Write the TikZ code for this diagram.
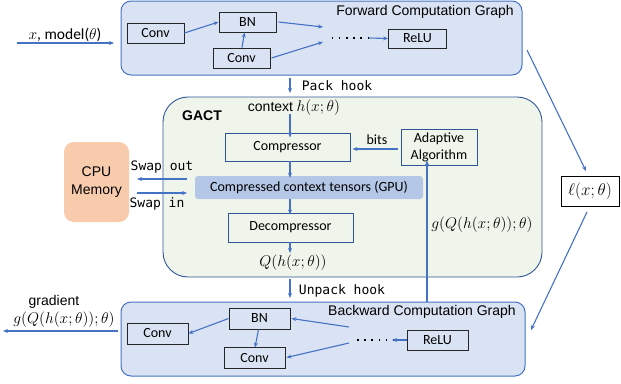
\RequirePackage{fix-cm}
\documentclass[tikz,border=0pt]{standalone}
\usepackage{fontspec}
\setmainfont{Carlito}
\newfontfamily\arial{Liberation Sans}
\setmonofont{DejaVu Sans Mono}
\usetikzlibrary{arrows.meta}
\definecolor{ablue}{HTML}{4472C4}
\definecolor{dblue}{HTML}{2F5597}
\definecolor{gfill}{HTML}{DAE3F3}
\definecolor{greenfill}{HTML}{F0F5EB}
\definecolor{tensfill}{HTML}{B4C7E7}
\definecolor{cpufill}{HTML}{F8CBAD}
\tikzset{
  arr/.style={draw=ablue, line width=1.1pt, -{Stealth[length=5pt,width=4pt]}},
  blk/.style={draw=black!85, line width=0.9pt, inner sep=0pt, font=\fontsize{14}{16}\selectfont},
  qbox/.style={draw=dblue, line width=0.9pt, inner sep=0pt, font=\fontsize{14}{16}\selectfont},
  graph/.style={draw=ablue, line width=1pt, fill=gfill, rounded corners=10pt},
  lab/.style={inner sep=0pt, font=\fontsize{14}{16}\selectfont},
  mathlab/.style={inner sep=0pt, font=\fontsize{15.5}{17}\selectfont},
  alab/.style={inner sep=0pt, font=\arial\fontsize{14}{16}\selectfont},
  mlab/.style={inner sep=0pt, font=\ttfamily\fontsize{13}{15}\selectfont},
  dotsline/.style={draw=black, line width=1.6pt, dash pattern=on 1.6pt off 5.6pt},
}
\begin{document}
\begin{tikzpicture}[x=1pt,y=-1pt]
\useasboundingbox (0,0) rectangle (621,383);
% graph boxes
\draw[graph] (121,1) rectangle (522,75);
\node[alab] (ftitle) at (425,12) {Forward Computation Graph};
\draw[graph] (121,302) rectangle (525,376);
\node[alab] (btitle) at (422,312) {Backward Computation Graph};
% GACT
\draw[draw=dblue, line width=0.9pt, fill=greenfill, rounded corners=25pt] (163,97) rectangle (542,277);
\node[alab, font=\arial\bfseries\fontsize{14}{16}\selectfont] (gact) at (202,116) {GACT};

% forward nodes
\node[blk, minimum width=57pt, minimum height=20pt] (fconv1) at (155.5,33) {Conv};
\node[blk, minimum width=57pt, minimum height=20pt] (fbn) at (247.5,22) {BN};
\node[blk, minimum width=57pt, minimum height=20pt] (fconv2) at (241.5,58) {Conv};
\node[blk, minimum width=58pt, minimum height=19pt] (frelu) at (417.5,38.5) {ReLU};
\coordinate (fa1) at (323,27);
\coordinate (fa2) at (323,42);
\coordinate (fd1) at (331.5,38);
\coordinate (fd2) at (369,38);
\draw[arr] (fconv1.east) -- (fbn.west);
\draw[arr] ([xshift=0.5pt]fconv2.north) -- ([xshift=-3pt]fbn.south);
\draw[arr] ([xshift=2pt]fbn.east) -- (fa1);
\draw[arr] ([xshift=1pt]fconv2.east) -- (fa2);
\draw[dotsline] (fd1) -- (fd2);
\draw[arr] (fd2) -- (frelu.west);

% input
\coordinate (in1) at (17,43);
\coordinate (in2) at (114,43);
\draw[arr] (in1) -- (in2);
\node[mathlab] (inlab) at (65,35) {$x$, model($\theta$)};

% pack hook
\coordinate (p1) at (290,78);
\coordinate (p2) at (290,93);
\draw[arr] (p1) -- (p2);
\node[mlab] (packlab) at (337,86) {Pack hook};

% GACT internals
\node[mathlab] (ctx) at (294,108) {{\arial\fontsize{14}{16}\selectfont context} $h(x;\theta)$};
\node[qbox, minimum width=125pt, minimum height=28pt] (comp) at (287.5,147) {Compressor};
\node[inner sep=0pt, fill=tensfill, rounded corners=3pt, minimum width=228pt, minimum height=23pt, font=\fontsize{14}{16}\selectfont] (tens) at (309,187.5) {Compressed context tensors (GPU)};
\node[qbox, minimum width=125pt, minimum height=29pt] (decomp) at (290.5,227.5) {Decompressor};
\node[qbox, minimum width=76pt, minimum height=36pt, align=center, font=\fontsize{14}{17}\selectfont] (adapt) at (439,147) {Adaptive\\Algorithm};
\node[mathlab] (qlab) at (293,263) {$Q(h(x;\theta))$};
\coordinate (c1) at (290,114);
\draw[arr] (c1) -- ([yshift=-5pt]comp.north -| c1);
\draw[arr] (comp.south -| c1) -- ([yshift=-2pt]tens.north -| c1);
\draw[arr] (tens.south -| c1) -- ([yshift=-2pt]decomp.north -| c1);
\draw[arr] (decomp.south -| c1) -- (290,253);
\draw[arr] ([xshift=-3pt]adapt.west |- 0,149) -- ([xshift=2pt]comp.east |- 0,149);
\node[lab] (bitslab) at (377,140) {bits};

% CPU memory
\node[inner sep=0pt, fill=cpufill, rounded corners=10pt, minimum width=65pt, minimum height=80pt, align=center, font=\arial\fontsize{14}{18}\selectfont] (cpu) at (96.5,182) {CPU\\Memory};
\coordinate (so1) at (187,179);
\coordinate (so2) at (137,179);
\coordinate (si1) at (137,193);
\coordinate (si2) at (187,193);
\draw[arr] (so1) -- (so2);
\draw[arr] (si1) -- (si2);
\node[mlab] (swapout) at (162,167) {Swap out};
\node[mlab] (swapin) at (157,204) {Swap in};

% unpack hook
\coordinate (u1) at (290,279);
\coordinate (u2) at (290,298);
\draw[arr] (u1) -- (u2);
\node[mlab] (unpacklab) at (342,291) {Unpack hook};

% gradient feedback to adaptive
\coordinate (g1) at (427,302);
\draw[arr] (g1) -- ([yshift=5pt]adapt.south -| g1);
\node[mathlab] (glab) at (482,225) {$g(Q(h(x;\theta));\theta)$};

% loss
\node[draw=black, line width=0.9pt, inner sep=0pt, minimum width=58pt, minimum height=30pt, font=\fontsize{17}{19}\selectfont] (ell) at (590,191) {$\ell(x;\theta)$};
\coordinate (l1) at (527,50);
\coordinate (l2) at (586,171);
\coordinate (l3) at (587,212);
\coordinate (l4) at (531,330);
\draw[arr] (l1) -- (l2);
\draw[arr] (l3) -- (l4);

% backward nodes
\node[blk, minimum width=61pt, minimum height=21pt] (bconv1) at (157.5,333.5) {Conv};
\node[blk, minimum width=61pt, minimum height=21pt] (bbn) at (259.5,318.5) {BN};
\node[blk, minimum width=61pt, minimum height=21pt] (bconv2) at (254.5,357.5) {Conv};
\node[blk, minimum width=61pt, minimum height=20pt] (brelu) at (437.5,340) {ReLU};
\coordinate (ba1) at (349,327);
\coordinate (ba2) at (349,343);
\coordinate (bd1) at (357,340);
\coordinate (bd2) at (394.6,340);
\coordinate (bd3) at (392,340);
\draw[dotsline] (bd1) -- (bd2);
\draw[arr] (brelu.west) -- (bd3);
\draw[arr] (ba1) -- ([xshift=1pt]bbn.east);
\draw[arr] (ba2) -- ([xshift=1pt]bconv2.east);
\draw[arr] (bbn.west) -- (bconv1.east);
\draw[arr] ([xshift=-1pt]bbn.south) -- ([xshift=0.5pt,yshift=-1pt]bconv2.north);

% output gradient
\coordinate (o1) at (118,331);
\coordinate (o2) at (3,331);
\draw[arr] (o1) -- (o2);
\node[alab] (gradlab) at (54,302) {gradient};
\node[mathlab] (gradg) at (64,320) {$g(Q(h(x;\theta));\theta)$};
\end{tikzpicture}
\end{document}
